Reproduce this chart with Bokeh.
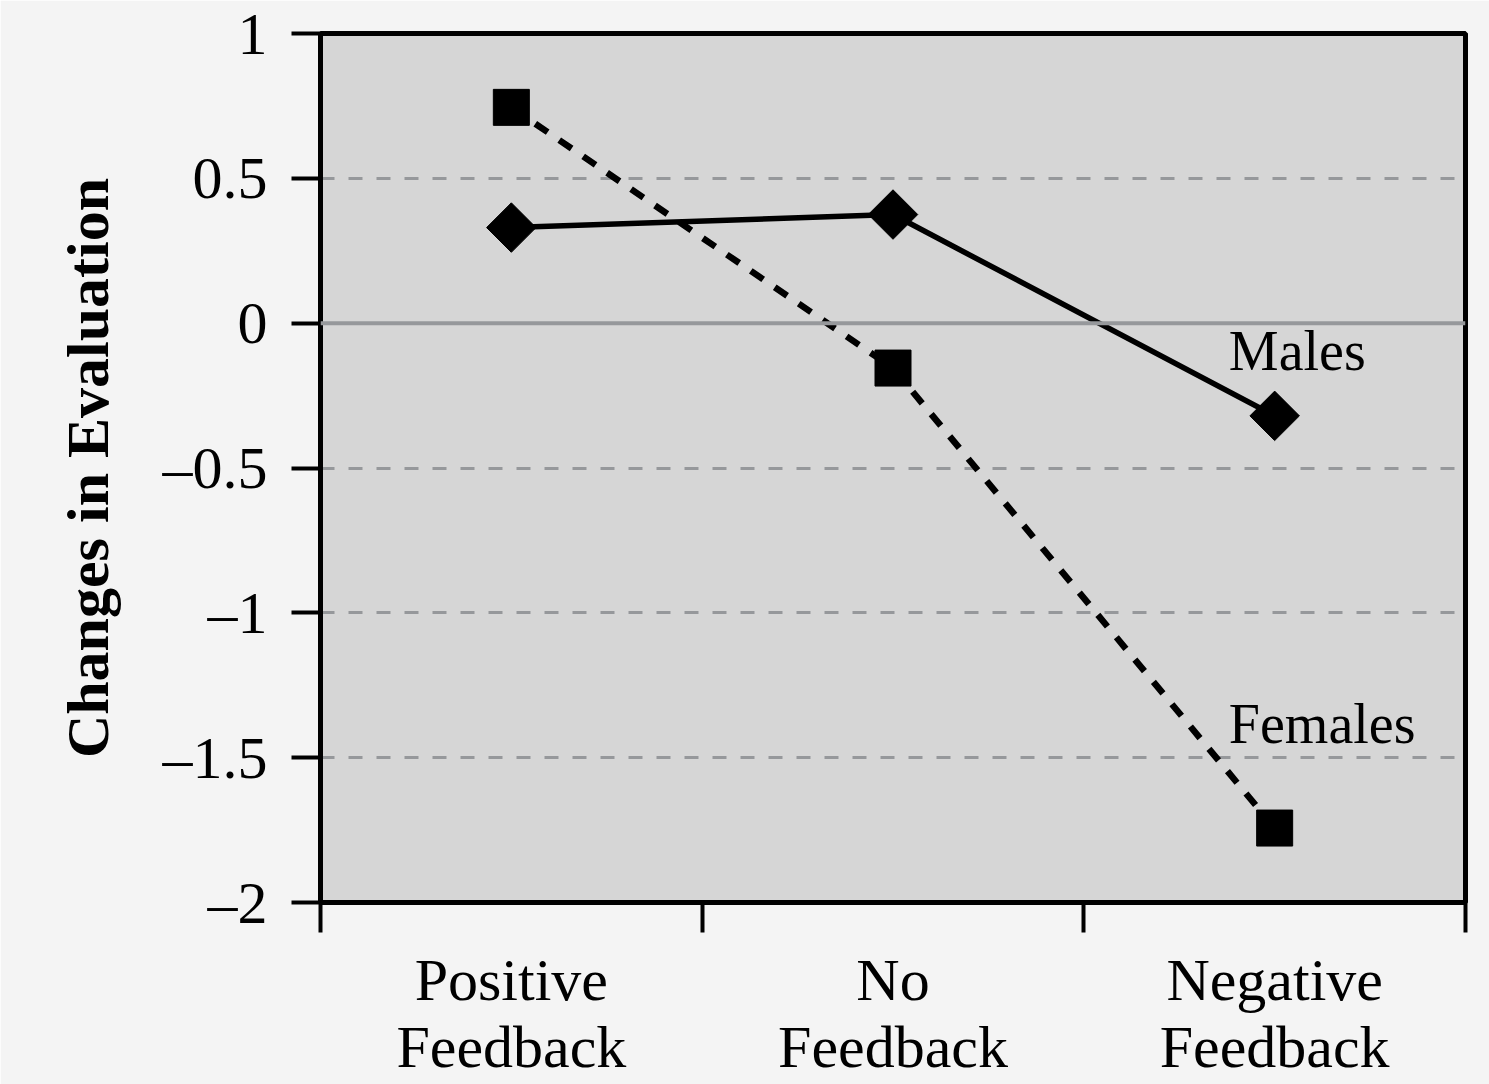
from bokeh.plotting import figure
from bokeh.models import Range1d, FixedTicker, Span, ColumnDataSource
from bokeh.embed import file_html
from bokeh.resources import INLINE
from bokeh.core.properties import value
import math

# ---- data ----
categories = ["Positive\nFeedback", "No\nFeedback", "Negative\nFeedback"]
males = [0.33, 0.375, -0.32]
females = [0.745, -0.155, -1.743]
y_ticks = [-2, -1.5, -1, -0.5, 0, 0.5, 1]
y_tick_labels = ["\u20132", "\u20131.5", "\u20131", "\u20130.5", "0", "0.5", "1"]
grid_ticks = [-1.5, -1, -0.5, 0.5]
series_labels = ["Males", "Females"]
label_pos_x = [2.38, 2.38]
label_pos_y = [-0.097, -1.383]

x_centers = [i + 0.5 for i in range(len(categories))]
x_bounds = [i for i in range(len(categories) + 1)]

FONT = "Liberation Serif"
BG = "#f4f4f4"
PLOT_BG = "#d6d6d6"
GRID = "#96989b"

p = figure(width=1489, height=1084, output_backend="svg", toolbar_location=None,
           x_range=Range1d(0, 3), y_range=Range1d(-2, 1),
           min_border_left=320, min_border_right=24, min_border_top=33, min_border_bottom=182)
p.background_fill_color = PLOT_BG
p.border_fill_color = BG
p.outline_line_color = "black"
p.outline_line_width = 5

# grid
p.xgrid.visible = False
p.ygrid.ticker = FixedTicker(ticks=grid_ticks)
p.ygrid.grid_line_color = GRID
p.ygrid.grid_line_width = 3
p.ygrid.grid_line_dash = "14 14"
p.add_layout(Span(location=0, dimension="width", line_color=GRID, line_width=4))

# y axis
p.yaxis.ticker = FixedTicker(ticks=y_ticks)
p.yaxis.major_label_overrides = {t: l for t, l in zip(y_ticks, y_tick_labels)}
p.yaxis.major_label_text_font = FONT
p.yaxis.major_label_text_font_size = "60px"
p.yaxis.major_label_text_color = "black"
p.yaxis.major_tick_out = 29
p.yaxis.major_tick_in = 0
p.yaxis.major_tick_line_width = 4
p.yaxis.major_tick_line_color = "black"
p.yaxis.minor_tick_line_color = None
p.yaxis.axis_line_width = 5
p.yaxis.axis_line_color = "black"
p.yaxis.major_label_standoff = 24
p.yaxis.axis_label = "Changes in Evaluation"
p.yaxis.axis_label_text_font = FONT
p.yaxis.axis_label_text_font_style = "bold"
p.yaxis.axis_label_text_font_size = "60px"
p.yaxis.axis_label_text_color = "black"
p.yaxis.axis_label_standoff = 39

# x axis
p.xaxis.ticker = FixedTicker(ticks=x_centers, minor_ticks=x_bounds)
p.xaxis.major_label_overrides = {c: l for c, l in zip(x_centers, categories)}
p.xaxis.major_label_text_font = FONT
p.xaxis.major_label_text_font_size = "60px"
p.xaxis.major_label_text_color = "black"
p.xaxis.major_label_text_line_height = 1.03
p.xaxis.major_tick_out = 0
p.xaxis.major_tick_in = 0
p.xaxis.major_tick_line_color = None
p.xaxis.minor_tick_out = 30
p.xaxis.minor_tick_in = 0
p.xaxis.minor_tick_line_width = 4
p.xaxis.minor_tick_line_color = "black"
p.xaxis.axis_line_width = 5
p.xaxis.axis_line_color = "black"
p.xaxis.major_label_standoff = 14

# series
p.line(x_centers, females, line_color="black", line_width=6.5, line_dash="15 14")
p.line(x_centers, males, line_color="black", line_width=5.5)
p.scatter(x_centers, females, marker="square", size=36, fill_color="black", line_color="black")
p.scatter(x_centers, males, marker="square", size=35, angle=math.pi / 4,
          fill_color="black", line_color="black")

src = ColumnDataSource(dict(x=label_pos_x, y=label_pos_y, t=series_labels))
p.text(x="x", y="y", text="t", source=src, text_font=value(FONT), text_font_size="56px",
       text_color="black", text_align="left", text_baseline="alphabetic")

open("out.html", "w").write(file_html(p, INLINE))
